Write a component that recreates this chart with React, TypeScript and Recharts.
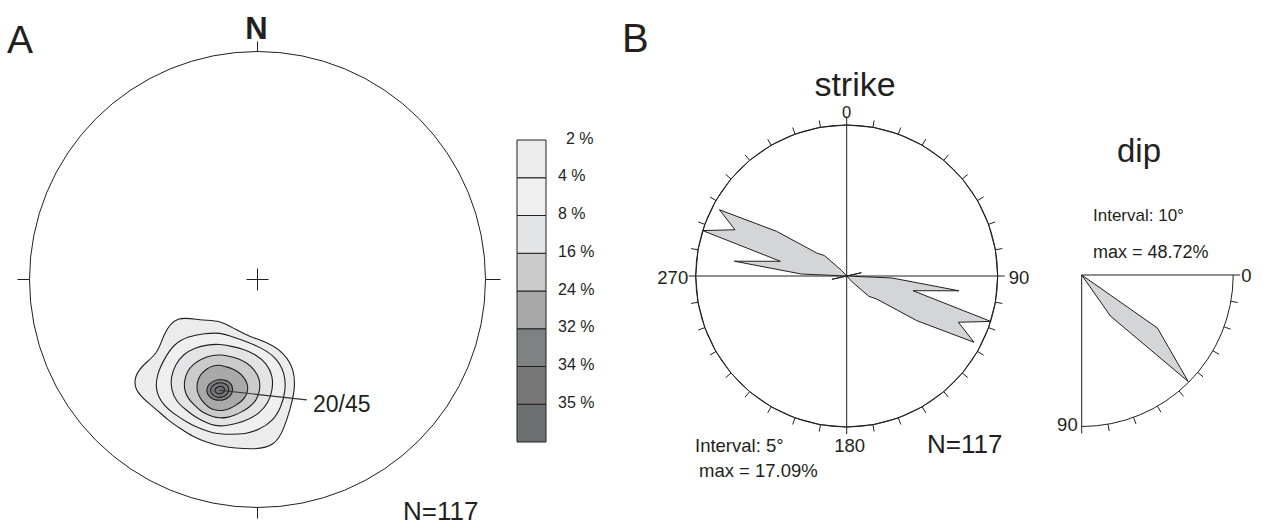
import React from 'react';
import {
  ScatterChart, XAxis, YAxis, ReferenceDot, ReferenceLine,
  RadarChart, Radar, PolarAngleAxis, PolarRadiusAxis, PolarGrid,
  BarChart, Bar, PieChart, Pie, Curve,
} from 'recharts';

const FONT = '"Liberation Sans", Arial, Helvetica, sans-serif';
const INK = '#231f20';

// ---------------- data ----------------
const sampleCount = 117;

// Panel A: density contours around the pole maximum (radius in units of the net radius)
const contourAzimuths = [0, 15, 30, 45, 60, 75, 90, 105, 120, 135, 150, 165, 180, 195, 210, 225, 240, 255, 270, 285, 300, 315, 330, 345];
const contour02 = [0.308, 0.275, 0.270, 0.298, 0.328, 0.340, 0.330, 0.320, 0.328, 0.345, 0.300, 0.262, 0.245, 0.235, 0.235, 0.240, 0.262, 0.295, 0.385, 0.375, 0.312, 0.350, 0.380, 0.316];
const contour04 = [0.254, 0.241, 0.245, 0.262, 0.287, 0.296, 0.290, 0.280, 0.270, 0.245, 0.222, 0.200, 0.192, 0.188, 0.190, 0.200, 0.220, 0.256, 0.283, 0.284, 0.279, 0.286, 0.274, 0.258];
const contour08 = [0.203, 0.200, 0.209, 0.223, 0.238, 0.242, 0.232, 0.220, 0.201, 0.180, 0.165, 0.158, 0.158, 0.156, 0.154, 0.160, 0.171, 0.196, 0.212, 0.222, 0.225, 0.225, 0.216, 0.207];
const contour16 = [0.157, 0.155, 0.162, 0.170, 0.178, 0.183, 0.177, 0.168, 0.150, 0.135, 0.128, 0.124, 0.122, 0.120, 0.120, 0.124, 0.128, 0.143, 0.155, 0.161, 0.165, 0.164, 0.159, 0.157];
const contour24 = [0.112, 0.107, 0.110, 0.115, 0.120, 0.126, 0.125, 0.117, 0.105, 0.096, 0.092, 0.090, 0.090, 0.089, 0.089, 0.088, 0.090, 0.094, 0.100, 0.103, 0.107, 0.109, 0.110, 0.112];
const contour32 = [0.047, 0.048, 0.051, 0.055, 0.057, 0.058, 0.057, 0.055, 0.052, 0.049, 0.046, 0.045, 0.044, 0.045, 0.047, 0.050, 0.053, 0.056, 0.057, 0.056, 0.053, 0.050, 0.048, 0.047];
const contour34 = [0.033, 0.034, 0.036, 0.038, 0.040, 0.041, 0.040, 0.038, 0.036, 0.034, 0.032, 0.031, 0.031, 0.032, 0.033, 0.035, 0.037, 0.039, 0.040, 0.039, 0.037, 0.035, 0.034, 0.033];
const contour35 = [0.017, 0.018, 0.019, 0.021, 0.022, 0.022, 0.021, 0.020, 0.019, 0.017, 0.016, 0.015, 0.015, 0.016, 0.017, 0.018, 0.019, 0.020, 0.021, 0.020, 0.019, 0.018, 0.017, 0.017];

const contourLevels = ['2 %', '4 %', '8 %', '16 %', '24 %', '32 %', '34 %', '35 %'];
const contourColors = ['#ececec', '#efefef', '#e3e4e6', '#cbcbcb', '#a9a9a9', '#7e8283', '#777777', '#6d7070'];
const contourSeries = [contour02, contour04, contour08, contour16, contour24, contour32, contour34, contour35];

// pole maximum (dip direction / dip) in net coordinates
const poleLabel = '20/45';
const pole = { x: -0.166, y: -0.486 };
const poleLabelAnchor = { x: 0.216, y: -0.528 };

// Panel B: strike rose, 5° bins from 0 to 180 (bidirectional), percent of measurements
const strikeBinCentres = [2.5, 7.5, 12.5, 17.5, 22.5, 27.5, 32.5, 37.5, 42.5, 47.5, 52.5, 57.5, 62.5, 67.5, 72.5, 77.5, 82.5, 87.5,
  92.5, 97.5, 102.5, 107.5, 112.5, 117.5, 122.5, 127.5, 132.5, 137.5, 142.5, 147.5, 152.5, 157.5, 162.5, 167.5, 172.5, 177.5];
const strikePercent = [0, 0, 0, 0, 0, 0, 0, 0, 0, 0, 0, 0, 0, 0, 0, 1.71, 0, 0,
  5.13, 12.82, 7.69, 17.09, 13.68, 16.24, 9.40, 4.27, 3.42, 0.85, 0, 0, 0, 0, 0, 0, 0, 0];
const strikeTicks = [0, 10, 20, 30, 40, 50, 60, 70, 80, 90, 100, 110, 120, 130, 140, 150, 160, 170,
  180, 190, 200, 210, 220, 230, 240, 250, 260, 270, 280, 290, 300, 310, 320, 330, 340, 350];
const strikeLabelled = [0, 90, 180, 270];
const strikeInterval = 5;

// Panel B: dip rose, 10° bins 0-90
const dipBinCentres = [5, 15, 25, 35, 45, 55, 65, 75, 85];
const dipPercent = [0, 0, 0, 29.91, 48.72, 16.24, 0, 0, 0];
const dipTicks = [0, 10, 20, 30, 40, 50, 60, 70, 80, 90];
const dipLabelled = [0, 90];
const dipInterval = 10;

// tables for the library
const contourTable = contourAzimuths.map((az, i) => {
  const row: any = { az };
  contourSeries.forEach((s, k) => { row['c' + k] = s[i]; });
  return row;
});
const strikeTable = [
  ...strikeBinCentres.map((az, i) => ({ az, pct: strikePercent[i] })),
  ...strikeBinCentres.map((az, i) => ({ az: az + 180, pct: strikePercent[i] })),
];
const dipTable = dipBinCentres.map((az, i) => ({ az, pct: dipPercent[i] }));
const strikeMax = Math.max(...strikePercent);
const dipMax = Math.max(...dipPercent);
const legendRow: any = { name: 'levels' };
contourLevels.forEach((_, k) => { legendRow['l' + k] = 1; });

// ---------------- layout ----------------
const W = 1263;
const H = 525;
const NET = { cx: 257.5, cy: 279.5, r: 228, w: 520, h: 525 };
const ROSE = { left: 640, top: 70, w: 420, h: 420, cx: 846.7, cy: 276, r: 151 };
const DIP = { left: 1040, top: 230, w: 223, h: 230, cx: 1081.7, cy: 275, r: 151.5 };
const LEG = { left: 517, right: 546, top: 140, bottom: 442, w: 620 };
const noMargin = { top: 0, right: 0, bottom: 0, left: 0 };

const abs = (left: number, top: number): React.CSSProperties => ({ position: 'absolute', left, top });

const strikeTick = (props: any) => {
  const v = props?.payload?.value;
  if (!strikeLabelled.includes(v)) return <g />;
  let x = props.x, y = props.y, anchor: any = 'middle', base: any = 'auto', size = 18.5;
  if (v === 0) { y = y; size = 16.5; }
  if (v === 90) { x = x + 4; y = y + 1.5; anchor = 'start'; base = 'central'; }
  if (v === 180) { x = x + 3; y = y + 17.5; }
  if (v === 270) { x = x - 0.5; y = y + 1.5; anchor = 'end'; base = 'central'; }
  return (
    <text x={x} y={y} textAnchor={anchor} dominantBaseline={base} fontSize={size} fill={INK} fontFamily={FONT}>{String(v)}</text>
  );
};

const dipTick = (props: any) => {
  const v = props?.payload?.value;
  if (!dipLabelled.includes(v)) return <g />;
  if (v === 0) {
    return <text x={props.x + 1} y={props.y} textAnchor="start" dominantBaseline="central" fontSize={18.5} fill={INK} fontFamily={FONT}>0</text>;
  }
  return <text x={props.x - 4} y={props.y - 9} textAnchor="end" dominantBaseline="central" fontSize={18.5} fill={INK} fontFamily={FONT}>90</text>;
};

const contourShape = (fill: string) => (props: any) => (
  <Curve points={props.points} type="basisClosed" fill={fill} fillOpacity={1} stroke={INK} strokeWidth={1.1} />
);

const legendTick = (props: any) => {
  const v = props?.payload?.value;
  const idx = contourLevels.length - v;
  const label = contourLevels[idx];
  return (
    <text x={props.x + (idx === 0 ? 8 : 0)} y={props.y - 2} textAnchor="start" dominantBaseline="central" fontSize={16} fill={INK} fontFamily={FONT}>{label}</text>
  );
};

export default function App() {
  const poleCx = NET.cx + pole.x * NET.r;
  const poleCy = NET.cy - pole.y * NET.r;
  const tk = (px: number) => px / NET.r;
  return (
    <div style={{ position: 'absolute', left: 0, top: 0, width: W, height: H, background: '#fff', overflow: 'hidden', fontFamily: FONT }}>
      {/* contour fills */}
      <div style={abs(0, 0)}>
        <RadarChart width={NET.w} height={NET.h} cx={poleCx} cy={poleCy} outerRadius={NET.r}
          startAngle={90} endAngle={-270} data={contourTable} margin={noMargin}>
          <PolarAngleAxis dataKey="az" type="number" domain={[0, 360]} tick={false} tickLine={false} axisLine={false} />
          <PolarRadiusAxis type="number" domain={[0, 1]} tick={false} axisLine={false} />
          {contourSeries.map((_, k) => (
            <Radar key={k} dataKey={'c' + k} fill={contourColors[k]} fillOpacity={1} stroke={INK} strokeWidth={1.1}
              dot={false} isAnimationActive={false} shape={contourShape(contourColors[k])} />
          ))}
        </RadarChart>
      </div>

      {/* net frame */}
      <div style={abs(0, 0)}>
        <ScatterChart width={NET.w} height={NET.h}
          margin={{ top: NET.cy - NET.r, left: NET.cx - NET.r, right: NET.w - NET.cx - NET.r, bottom: NET.h - NET.cy - NET.r }}>
          <XAxis type="number" dataKey="x" domain={[-1, 1]} hide allowDataOverflow />
          <YAxis type="number" dataKey="y" domain={[-1, 1]} hide allowDataOverflow />
          <ReferenceDot x={0} y={0} r={NET.r} fill="none" stroke={INK} strokeWidth={1} ifOverflow="visible" />
          <ReferenceLine segment={[{ x: 0, y: 1 }, { x: 0, y: 1 + tk(10) }]} stroke={INK} ifOverflow="visible" />
          <ReferenceLine segment={[{ x: 0, y: -1 }, { x: 0, y: -1 - tk(11) }]} stroke={INK} ifOverflow="visible" />
          <ReferenceLine segment={[{ x: -1, y: 0 }, { x: -1 - tk(12), y: 0 }]} stroke={INK} ifOverflow="visible" />
          <ReferenceLine segment={[{ x: 1, y: 0 }, { x: 1 + tk(15), y: 0 }]} stroke={INK} ifOverflow="visible" />
          <ReferenceLine segment={[{ x: -tk(11), y: 0 }, { x: tk(11), y: 0 }]} stroke={INK} ifOverflow="visible" />
          <ReferenceLine segment={[{ x: 0, y: -tk(11) }, { x: 0, y: tk(11) }]} stroke={INK} ifOverflow="visible" />
          <ReferenceLine segment={[{ x: pole.x, y: pole.y }, { x: poleLabelAnchor.x, y: poleLabelAnchor.y }]} stroke="#333" strokeWidth={1.1} ifOverflow="visible" />
        </ScatterChart>
      </div>

      {/* legend */}
      <div style={abs(0, 0)}>
        <BarChart width={LEG.w} height={H} data={[legendRow]} barCategoryGap={0} barGap={0}
          margin={{ top: LEG.top, bottom: H - LEG.bottom, left: LEG.left, right: 0 }}>
          <XAxis dataKey="name" hide />
          <YAxis orientation="right" type="number" domain={[0, contourLevels.length]} ticks={[1, 2, 3, 4, 5, 6, 7, 8]}
            width={LEG.w - LEG.right} axisLine={false} tickLine={false} tickSize={6} tickMargin={6} interval={0} tick={legendTick} />
          {contourLevels.map((_, i) => {
            const k = contourLevels.length - 1 - i;
            return <Bar key={k} dataKey={'l' + k} stackId="s" fill={contourColors[k]} stroke={INK} strokeWidth={1} isAnimationActive={false} />;
          })}
        </BarChart>
      </div>

      {/* strike rose */}
      <div style={abs(ROSE.left, ROSE.top)}>
        <RadarChart width={ROSE.w} height={ROSE.h} cx={ROSE.cx - ROSE.left} cy={ROSE.cy - ROSE.top} outerRadius={ROSE.r}
          startAngle={90} endAngle={-270} data={strikeTable} margin={noMargin}>
          <PolarGrid gridType="circle" polarAngles={[0, 90, 180, 270]} polarRadius={[ROSE.r]} stroke={INK} strokeOpacity={1} />
          <PolarAngleAxis dataKey="az" type="number" domain={[0, 360]} ticks={strikeTicks as any} tickCount={37}
            tickSize={7} axisLine={{ stroke: INK }} tickLine={{ stroke: INK }} tick={strikeTick} />
          <PolarRadiusAxis type="number" domain={[0, strikeMax]} tick={false} axisLine={false} />
          <Radar dataKey="pct" fill="#d4d5d7" fillOpacity={1} stroke={INK} strokeWidth={1} dot={false} isAnimationActive={false} />
        </RadarChart>
      </div>

      {/* dip frame */}
      <div style={abs(DIP.left, DIP.top)}>
        <PieChart width={DIP.w} height={DIP.h} margin={noMargin}>
          <Pie data={[{ name: 'frame', value: 1 }]} dataKey="value" cx={DIP.cx - DIP.left} cy={DIP.cy - DIP.top}
            innerRadius={0} outerRadius={DIP.r} startAngle={0} endAngle={-90} fill="none" stroke={INK} strokeWidth={1}
            isAnimationActive={false} label={false} labelLine={false} />
        </PieChart>
      </div>

      {/* dip rose */}
      <div style={abs(DIP.left, DIP.top)}>
        <RadarChart width={DIP.w} height={DIP.h} cx={DIP.cx - DIP.left} cy={DIP.cy - DIP.top} outerRadius={DIP.r}
          startAngle={0} endAngle={-90} data={dipTable} margin={noMargin}>
          <PolarAngleAxis dataKey="az" type="number" domain={[0, 90]} ticks={dipTicks as any} tickCount={10}
            tickSize={7} axisLine={false} tickLine={{ stroke: INK }} tick={dipTick} />
          <PolarRadiusAxis type="number" domain={[0, dipMax]} tick={false} axisLine={false} />
          <Radar dataKey="pct" fill="#d4d5d7" fillOpacity={1} stroke={INK} strokeWidth={1} dot={false} isAnimationActive={false} />
        </RadarChart>
      </div>

      {/* texts */}
      <svg width={W} height={H} style={{ position: 'absolute', left: 0, top: 0, pointerEvents: 'none' }}>
        <g fontFamily={FONT} fill={INK}>
          <text x={7} y={53} fontSize={39}>A</text>
          <text x={256.5} y={39} fontSize={31} fontWeight="bold" textAnchor="middle">N</text>
          <text x={313} y={411.5} fontSize={23}>{poleLabel}</text>
          <text x={403} y={520} fontSize={26}>{`N=${sampleCount}`}</text>
          <text x={622} y={52} fontSize={40}>B</text>
          <text x={855} y={96} fontSize={34} textAnchor="middle">strike</text>
          <text x={695} y={451.7} fontSize={18.5}>{`Interval: ${strikeInterval}°`}</text>
          <text x={699} y={477.3} fontSize={18.5}>{`max = ${strikeMax.toFixed(2)}%`}</text>
          <text x={927} y={453.3} fontSize={26}>{`N=${sampleCount}`}</text>
          <text x={1139} y={161.7} fontSize={33} textAnchor="middle">dip</text>
          <text x={1093} y={220.7} fontSize={17}>{`Interval: ${dipInterval}°`}</text>
          <text x={1093} y={257.7} fontSize={18}>{`max = ${dipMax.toFixed(2)}%`}</text>
        </g>
      </svg>
    </div>
  );
}
